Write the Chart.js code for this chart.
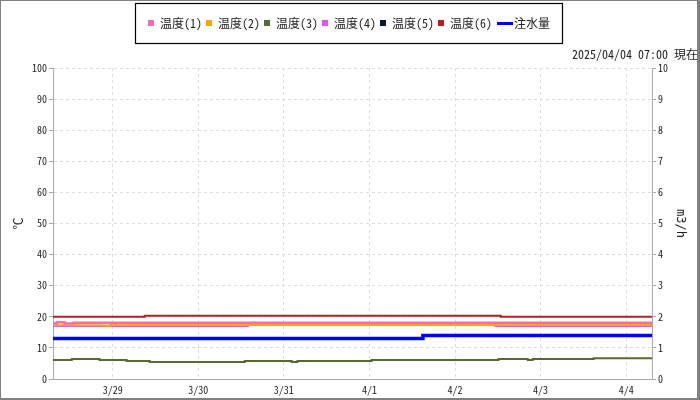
<!DOCTYPE html>
<html><head><meta charset="utf-8">
<script src="https://cdn.jsdelivr.net/npm/chart.js@4/dist/chart.umd.min.js"></script>
<style>html,body{margin:0;padding:0;background:#fff}canvas{display:block}</style>
</head><body>
<canvas id="c" width="700" height="400"></canvas>
<script>
// ---- data (x = hours since 3/28 00:00) ----
const seriesLabels = ['温度(1)','温度(2)','温度(3)','温度(4)','温度(5)','温度(6)','注水量'];
const xTickHours = [24, 48, 72, 96, 120, 144, 168];
const xTickLabels = ['3/29','3/30','3/31','4/1','4/2','4/3','4/4'];
const xMinHour = 7.25, xMaxHour = 175.25;
const subtitleText = '2025/04/04 07:00 現在';

const temp1Times  = [7.25, 8.3, 10.5, 12.8, 175.25];
const temp1Values = [17.85, 18.25, 17.85, 18.05, 18.05];
const temp2Times  = [7.25, 21.2, 23.2, 175.25];
const temp2Values = [17.3, 17.15, 17.35, 17.35];
const temp3Times  = [7.25, 12.5, 20.3, 27.9, 34.4, 61.0, 74.2, 75.8, 96.6, 132.2, 140.4, 141.8, 158.9, 175.25];
const temp3Values = [6.1, 6.4, 6.1, 5.8, 5.5, 5.8, 5.5, 5.8, 6.1, 6.4, 6.1, 6.4, 6.7, 6.7];
const temp4Times  = [7.25, 61.9, 131.3, 175.25];
const temp4Values = [17.05, 17.35, 17.05, 17.05];
const temp5Times  = [];
const temp5Values = [];
const temp6Times  = [7.25, 33.0, 132.8, 175.25];
const temp6Values = [20.0, 20.3, 20.0, 20.0];
const flowTimes   = [7.25, 111.0, 175.25];
const flowValues  = [1.3, 1.4, 1.4];

// ---- rendering ----
const FONT = "'Noto Sans Mono CJK JP','DejaVu Sans Mono','Noto Sans CJK JP',monospace";
function pts(t, v) { return t.map((x, i) => ({x: x, y: v[i]})); }
function ds(i, t, v, color, width, axis) {
  return {label: seriesLabels[i], data: pts(t, v), borderColor: color, backgroundColor: color,
    borderWidth: width, yAxisID: axis, stepped: true, pointRadius: 0, fill: false, tension: 0};
}
const datasets = [
  ds(0, temp1Times, temp1Values, '#ff69b4', 2.5, 'y'),
  ds(1, temp2Times, temp2Values, '#ffa500', 2, 'y'),
  ds(2, temp3Times, temp3Values, '#556b2f', 2, 'y'),
  ds(3, temp4Times, temp4Values, '#dd55f5', 2, 'y'),
  ds(4, temp5Times, temp5Values, '#0a1a2e', 2, 'y'),
  ds(5, temp6Times, temp6Values, '#b22222', 2, 'y'),
  ds(6, flowTimes, flowValues, '#0000ff', 3.5, 'y1')
];

const flowMarker = document.createElement('canvas');
flowMarker.width = 16; flowMarker.height = 3;
(function(){ const g = flowMarker.getContext('2d'); g.fillStyle = '#0000ff'; g.fillRect(0, 0, 16, 3); })();

const framePlugin = {
  id: 'frame',
  afterDraw(chart) {
    const c = chart.ctx;
    c.save();
    const hb = chart.legend.legendHitBoxes;
    if (hb && hb.length) {
      const l = Math.round(hb[0].left) - 13;
      const last = hb[hb.length - 1];
      const r = Math.round(last.left + last.width) + 12;
      const t = Math.round(chart.legend.top) - 10;
      const b = Math.round(chart.legend.bottom) + 4;
      c.strokeStyle = '#000'; c.lineWidth = 1.2;
      c.strokeRect(l + 0.5, t + 0.5, r - l, b - t);
    }
    c.fillStyle = '#808080';
    c.fillRect(0, 0, 700, 1);
    c.fillRect(0, 0, 1, 400);
    c.fillRect(697, 0, 3, 400);
    c.fillRect(0, 398, 700, 2);
    c.restore();
  }
};

new Chart(document.getElementById('c'), {
  type: 'line',
  data: {datasets},
  options: {
    responsive: false, animation: false,
    layout: {padding: {top: 13, right: 2, left: 0, bottom: 0}},
    plugins: {
      legend: {
        position: 'top',
        labels: {
          usePointStyle: true, boxHeight: 6, boxWidth: 6, padding: 4, color: '#222',
          font: {family: FONT, size: 12},
          generateLabels(chart) {
            const items = Chart.defaults.plugins.legend.labels.generateLabels(chart);
            items.forEach((it, i) => {
              if (i === items.length - 1) { it.pointStyle = flowMarker; it.lineWidth = 0; }
              else { it.pointStyle = 'rect'; it.lineWidth = 0; }
              if (i === items.length - 2) it.text = it.text + ' ';
            });
            return items;
          }
        }
      },
      subtitle: {display: true, text: subtitleText, align: 'end', weight: 500, color: '#222',
        font: {family: FONT, size: 12}, padding: {top: 8.3, bottom: 6.3}},
      tooltip: {enabled: false}
    },
    scales: {
      x: {
        type: 'linear', min: xMinHour, max: xMaxHour,
        afterBuildTicks(s) { s.ticks = xTickHours.map(v => ({value: v})); },
        ticks: {callback: (v, i) => xTickLabels[i], font: {family: FONT, size: 10}, color: '#222',
          padding: 5, maxRotation: 0, autoSkip: false},
        grid: {color: '#dddddd', drawTicks: false},
        border: {color: '#aaaaaa', dash: [3, 3]},
        afterFit(s) { s.height = 21; }
      },
      y: {
        position: 'left', min: 0, max: 100,
        ticks: {stepSize: 10, font: {family: FONT, size: 10}, color: '#222', padding: 2},
        grid: {color: '#dddddd', tickColor: '#aaaaaa', tickLength: 4, tickBorderDash: []},
        border: {color: '#aaaaaa', dash: [3, 3]},
        title: {display: true, text: '℃', color: '#222', font: {family: FONT, size: 12}, padding: {top: 10.8, bottom: 0}},
        afterFit(s) { s.width = 53; }
      },
      y1: {
        position: 'right', min: 0, max: 10,
        ticks: {stepSize: 1, font: {family: FONT, size: 10}, color: '#222', padding: 2},
        grid: {drawOnChartArea: false, tickColor: '#aaaaaa', tickLength: 4},
        border: {color: '#aaaaaa'},
        title: {display: true, text: 'm3/h', color: '#222', font: {family: "'DejaVu Sans Mono',monospace", size: 12}, padding: {top: 11, bottom: 0}},
        afterFit(s) { s.width = 46; }
      }
    }
  },
  plugins: [framePlugin]
});
</script>
</body></html>
